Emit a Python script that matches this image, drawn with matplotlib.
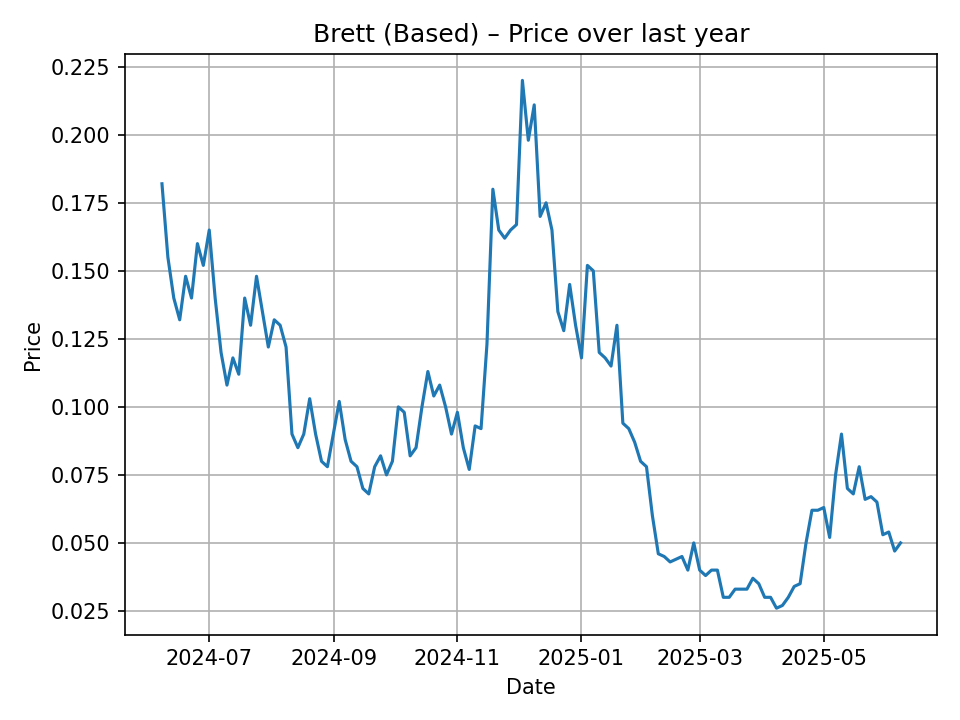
import matplotlib
matplotlib.use("Agg")
import matplotlib.pyplot as plt
import matplotlib.dates as mdates
import pandas as pd

prices = [
    0.182, 0.155, 0.140, 0.132, 0.148, 0.140, 0.160, 0.152, 0.165, 0.140,
    0.120, 0.108, 0.118, 0.112, 0.140, 0.130, 0.148, 0.135, 0.122, 0.132,
    0.130, 0.122, 0.090, 0.085, 0.090, 0.103, 0.090, 0.080, 0.078, 0.090,
    0.102, 0.088, 0.080, 0.078, 0.070, 0.068, 0.078, 0.082, 0.075,
    0.080, 0.100, 0.098, 0.082, 0.085, 0.100, 0.113, 0.104,
    0.108, 0.100, 0.090, 0.098, 0.085, 0.077, 0.093, 0.092, 0.123, 0.180,
    0.165, 0.162, 0.165, 0.167, 0.220, 0.198, 0.211, 0.170, 0.175, 0.165,
    0.135, 0.128, 0.145, 0.130, 0.118, 0.152, 0.150, 0.120, 0.118, 0.115,
    0.130, 0.094, 0.092, 0.087, 0.080, 0.078, 0.060, 0.046, 0.045, 0.043,
    0.044, 0.045, 0.040, 0.050, 0.040, 0.038, 0.040, 0.040, 0.030, 0.030,
    0.033, 0.033, 0.033, 0.037, 0.035, 0.030, 0.030, 0.026, 0.027, 0.030,
    0.034, 0.035, 0.050, 0.062, 0.062, 0.063, 0.052, 0.075, 0.090, 0.070,
    0.068, 0.078, 0.066, 0.067, 0.065, 0.053, 0.054, 0.047, 0.050,
]
dates = pd.date_range(start="2024-06-08", end="2025-06-08", periods=len(prices))

fig, ax = plt.subplots(figsize=(6.4, 4.8), dpi=150)
ax.plot(dates, prices, color="#1f77b4", linewidth=1.5)
ax.set_title("Brett (Based) \u2013 Price over last year")
ax.set_xlabel("Date")
ax.set_ylabel("Price")
ax.xaxis.set_major_locator(mdates.MonthLocator(bymonth=[1, 3, 5, 7, 9, 11]))
ax.xaxis.set_major_formatter(mdates.DateFormatter("%Y-%m"))
ax.grid(True)
fig.tight_layout()
fig.savefig("out.png")
